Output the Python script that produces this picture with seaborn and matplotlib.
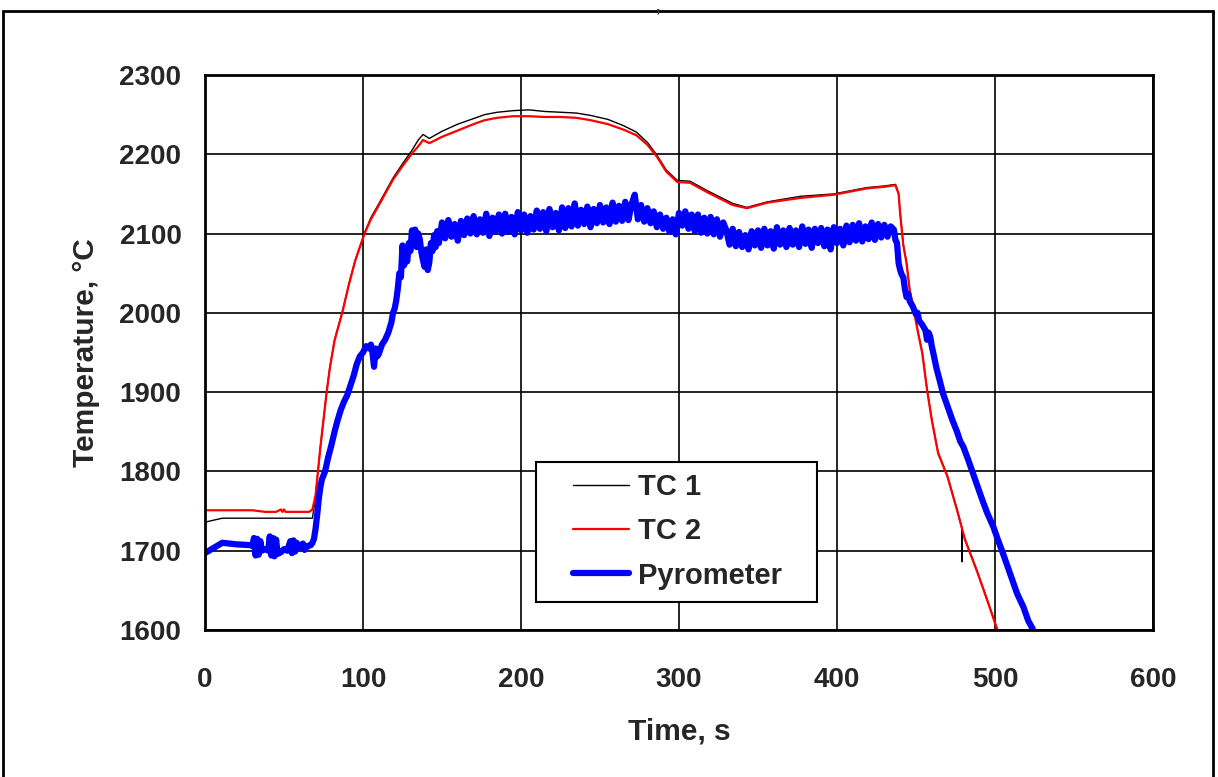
import numpy as np
import pandas as pd
import seaborn as sns
import matplotlib.pyplot as plt
from matplotlib.patches import Rectangle

##thermocouple 1 (black)
tc1_time = [0, 11, 68, 70, 71, 73, 75, 77, 79, 82, 87, 91, 95, 101, 105, 109, 114, 119, 125,
            131, 135, 138, 142, 150, 160, 170, 177, 185, 195, 205, 215, 225, 235, 244, 255,
            265, 273, 280, 286, 292, 299, 307, 318, 326, 334, 343, 356, 377, 398, 419, 430,
            437, 439, 440, 442, 444, 446, 448, 451, 454, 457, 460, 464, 470, 476, 479, 479.01,
            479.02, 481, 489, 495, 501, 502]
tc1_temp = [1736, 1741, 1741, 1768, 1790, 1830, 1865, 1900, 1931, 1966, 2002, 2036, 2066, 2101,
            2120, 2134, 2152, 2170, 2188, 2205, 2218, 2225, 2220, 2229, 2238, 2245, 2250, 2253,
            2255, 2256, 2254, 2253, 2252, 2249, 2244, 2236, 2228, 2215, 2199, 2180, 2167, 2166,
            2154, 2146, 2138, 2133, 2140, 2147, 2150, 2158, 2160, 2162, 2151, 2126, 2086, 2064,
            2030, 2011, 1979, 1950, 1904, 1866, 1824, 1794, 1752, 1730, 1686, 1728, 1715, 1673,
            1639, 1604, 1599]

##thermocouple 2 (red)
tc2_time = [0, 30, 38, 45, 48, 49, 50, 51, 66, 68, 70, 71, 73, 75, 77, 79, 82, 87, 91, 95, 101,
            105, 109, 114, 119, 125, 131, 135, 138, 142, 150, 160, 170, 177, 185, 195, 205, 215,
            225, 235, 244, 255, 265, 273, 280, 286, 292, 299, 307, 318, 326, 334, 343, 356, 377,
            398, 419, 430, 437, 439, 440, 442, 444, 446, 448, 451, 454, 457, 460, 464, 470, 476,
            481, 489, 495, 501, 502]
tc2_temp = [1751, 1751, 1749, 1749, 1752, 1749, 1752, 1749, 1749, 1752, 1770, 1790, 1830, 1865,
            1900, 1930, 1965, 2001, 2035, 2065, 2100, 2118, 2132, 2150, 2168, 2185, 2201, 2210,
            2218, 2214, 2222, 2230, 2238, 2243, 2246, 2248, 2248, 2247, 2247, 2246, 2243, 2238,
            2231, 2224, 2212, 2197, 2178, 2165, 2164, 2152, 2144, 2136, 2132, 2139, 2145, 2149,
            2157, 2159, 2161, 2150, 2125, 2085, 2063, 2029, 2010, 1978, 1949, 1903, 1865, 1823,
            1793, 1751, 1714, 1672, 1638, 1603, 1598]

##pyrometer (blue) - start, heating, plateau (every 2 s), cooling
pyro_start_time = [0, 5, 11, 20, 29, 30, 31, 32, 33, 34, 35, 36, 38, 40, 41, 42, 43, 44, 45, 46,
                   48, 50, 52, 54, 55, 56, 57, 58, 60, 62, 63, 65, 67, 68, 69, 70, 71, 72, 73, 74,
                   76, 78, 80, 82, 84, 86, 88, 90, 92, 94, 96, 98, 100, 102, 104, 105, 106, 107,
                   108, 109, 110, 112, 114, 116, 118, 119, 120, 121, 122, 123, 124, 125, 126, 127,
                   128, 129, 130, 131, 132, 133, 134, 135, 136, 137, 138, 139, 140, 141, 142, 143,
                   144, 145, 146, 147, 148, 149]
pyro_start_temp = [1697, 1703, 1710, 1708, 1707, 1706, 1716, 1694, 1715, 1695, 1712, 1700, 1702,
                   1700, 1718, 1694, 1716, 1693, 1714, 1696, 1698, 1702, 1700, 1712, 1697, 1713,
                   1699, 1710, 1704, 1709, 1701, 1706, 1707, 1710, 1715, 1728, 1745, 1765, 1780,
                   1790, 1800, 1818, 1833, 1850, 1865, 1878, 1888, 1896, 1908, 1920, 1935, 1945,
                   1950, 1958, 1955, 1960, 1950, 1932, 1955, 1945, 1948, 1960, 1966, 1975, 1988,
                   2000, 2005, 2015, 2030, 2050, 2045, 2085, 2060, 2075, 2065, 2088, 2078, 2104,
                   2088, 2105, 2083, 2100, 2092, 2076, 2066, 2058, 2080, 2054, 2064, 2088, 2078,
                   2098, 2083, 2103, 2088, 2100]

pyro_plateau_time = np.arange(150, 436, 2)
pyro_plateau_temp = [2114, 2094, 2117, 2096, 2112, 2091, 2116, 2098, 2119, 2100,
                     2122, 2099, 2118, 2101, 2125, 2097, 2120, 2103, 2124, 2100,
                     2125, 2102, 2121, 2099, 2127, 2104, 2124, 2101, 2122, 2105,
                     2129, 2106, 2127, 2103, 2131, 2108, 2126, 2104, 2133, 2107,
                     2132, 2109, 2138, 2110, 2130, 2112, 2134, 2108, 2131, 2113,
                     2136, 2114, 2133, 2112, 2139, 2115, 2135, 2116, 2140, 2117,
                     2137, 2149, 2118, 2136, 2115, 2132, 2113, 2128, 2108, 2124,
                     2106, 2120, 2102, 2118, 2099, 2126, 2110, 2128, 2106, 2124,
                     2103, 2124, 2101, 2120, 2100, 2121, 2099, 2118, 2096, 2114,
                     2104, 2086, 2106, 2084, 2102, 2083, 2098, 2080, 2103, 2085,
                     2104, 2082, 2106, 2085, 2103, 2081, 2108, 2086, 2104, 2083,
                     2107, 2086, 2104, 2083, 2109, 2087, 2105, 2082, 2106, 2088,
                     2107, 2084, 2105, 2080, 2108, 2088, 2106, 2085, 2110, 2089,
                     2111, 2091, 2113, 2090, 2109, 2093, 2114, 2092, 2112, 2095,
                     2111, 2096, 2109]

pyro_end_time = [436, 437, 438, 439, 440, 441, 442, 443, 444, 445, 446, 448, 450, 451, 452, 454,
                 456, 457, 458, 459, 460, 461, 463, 465, 467, 470, 473, 476, 478, 480, 483, 486,
                 489, 492, 495, 499, 502, 505, 508, 511, 514, 518, 521, 524]
pyro_end_temp = [2105, 2092, 2088, 2063, 2054, 2048, 2045, 2030, 2020, 2024, 2015, 2008, 1998,
                 2000, 1990, 1985, 1978, 1966, 1975, 1970, 1958, 1949, 1930, 1915, 1899, 1882,
                 1865, 1850, 1838, 1831, 1815, 1798, 1781, 1764, 1748, 1730, 1713, 1697, 1680,
                 1663, 1646, 1629, 1612, 1601]

pyro_time = list(pyro_start_time) + list(pyro_plateau_time) + list(pyro_end_time)
pyro_temp = list(pyro_start_temp) + list(pyro_plateau_temp) + list(pyro_end_temp)

TC1 = pd.DataFrame({"Time": tc1_time, "Temp": tc1_temp})
TC2 = pd.DataFrame({"Time": tc2_time, "Temp": tc2_temp})
Pyro = pd.DataFrame({"Time": pyro_time, "Temp": pyro_temp})

sns.set_style("white")
plt.rcParams["font.family"] = ["Liberation Sans", "DejaVu Sans"]
plt.rcParams["font.weight"] = "bold"

fig = plt.figure(figsize=(12.18, 7.77), dpi=100)
ax = fig.add_axes([0.1683, 0.1892, 0.7783, 0.7143])

sns.lineplot(data=TC1, x="Time", y="Temp", ax=ax, color="black", lw=1.0,
             label="TC 1", sort=False, estimator=None)
sns.lineplot(data=TC2, x="Time", y="Temp", ax=ax, color="#ff0000", lw=1.6,
             label="TC 2", sort=False, estimator=None)
sns.lineplot(data=Pyro, x="Time", y="Temp", ax=ax, color="#0000ff", lw=4.5,
             label="Pyrometer", sort=False, estimator=None)

ax.set_xlim(0, 600)
ax.set_ylim(1600, 2300)
ax.set_xticks(range(0, 601, 100))
ax.set_yticks(range(1600, 2301, 100))
ax.grid(True, color="black", lw=1.2)
ax.set_axisbelow(True)
for s in ax.spines.values():
    s.set_color("black")
    s.set_linewidth(2)
ax.tick_params(axis="both", direction="out", length=9, width=1.5, labelsize=20, color="black")
ax.tick_params(axis="x", pad=18)
ax.tick_params(axis="y", pad=8)
for lab in ax.get_xticklabels() + ax.get_yticklabels():
    lab.set_fontweight("bold")

ax.set_xlabel("Time, s", fontsize=21.5, fontweight="bold", labelpad=17)
ax.set_ylabel("Temperature, °C", fontsize=21.5, fontweight="bold", labelpad=14)

##legend box drawn separately so the side padding matches
ax.add_patch(Rectangle((0.349, 0.0505), 0.2966, 0.2523, transform=ax.transAxes,
                       facecolor="white", edgecolor="black", lw=1.5, zorder=4))
leg = ax.legend(loc="center", bbox_to_anchor=(0.4985, 0.1775), frameon=False,
                prop={"size": 21, "weight": "bold"}, handlelength=1.9,
                labelspacing=0.55, borderpad=0.2, handletextpad=0.3)
leg.set_zorder(5)

##outer frame and the stray comma at the top
fig.patches.append(Rectangle((3 / 1218, -0.02), 1210 / 1218, 1.02 - 11 / 777, fill=False,
                             edgecolor="black", lw=2, transform=fig.transFigure))
fig.text(658 / 1218, 1 - 0.5 / 777, ",", fontsize=12, fontweight="bold", ha="center", va="top")

plt.savefig("out.png", dpi=100)
